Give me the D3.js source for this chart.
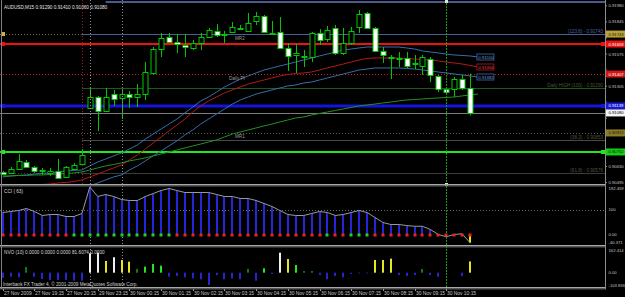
<!DOCTYPE html>
<html>
<head>
<meta charset="utf-8">
<script src="https://cdn.jsdelivr.net/npm/d3@7"></script>
<style>
html, body { margin: 0; padding: 0; background: #000; overflow: hidden; }
svg { display: block; }
text { font-family: "Liberation Sans", Arial, sans-serif; }
</style>
</head>
<body>
<script>
// AUDUSD M15, 60 bars: 27 Nov 2009 18:15 .. 30 Nov 2009 11:00
const opens  = [0.90584,0.90576,0.90609,0.90668,0.90626,0.90597,0.90576,0.90593,0.90542,0.90609,
                0.90651,0.91122,0.91214,0.91097,0.91239,0.91206,0.91239,0.91214,0.91239,0.91416,
                0.91617,0.91718,0.91676,0.91651,0.91626,0.91668,0.91718,0.91769,0.91743,0.91760,
                0.91794,0.91769,0.91853,0.91895,0.91752,0.91760,0.91626,0.91567,0.91559,0.91550,
                0.91752,0.91701,0.91794,0.91584,0.91668,0.91802,0.91920,0.91794,0.91601,0.91546,
                0.91542,0.91542,0.91491,0.91475,0.91533,0.91391,0.91281,0.91281,0.91365,0.91290];
const highs  = [0.90593,0.90626,0.90735,0.90685,0.90635,0.90618,0.90618,0.90693,0.90635,0.90660,
                0.90777,0.91298,0.91223,0.91290,0.91273,0.91281,0.91265,0.91323,0.91508,0.91634,
                0.91752,0.91752,0.91743,0.91743,0.91693,0.91752,0.91794,0.91827,0.91769,0.91844,
                0.91819,0.91920,0.91928,0.91903,0.91853,0.91886,0.91668,0.91659,0.91609,0.91760,
                0.91785,0.91811,0.91819,0.91794,0.91802,0.91945,0.91928,0.91802,0.91634,0.91567,
                0.91592,0.91592,0.91567,0.91567,0.91550,0.91399,0.91298,0.91382,0.91399,0.91410];
const lows   = [0.90559,0.90567,0.90601,0.90618,0.90576,0.90559,0.90551,0.90525,0.90534,0.90601,
                0.90643,0.91113,0.90928,0.91088,0.91139,0.91029,0.91122,0.91130,0.91189,0.91399,
                0.91550,0.91668,0.91584,0.91550,0.91609,0.91609,0.91710,0.91718,0.91668,0.91752,
                0.91777,0.91760,0.91819,0.91752,0.91743,0.91617,0.91433,0.91416,0.91466,0.91508,
                0.91651,0.91676,0.91567,0.91567,0.91651,0.91752,0.91785,0.91592,0.91500,0.91365,
                0.91466,0.91458,0.91449,0.91399,0.91340,0.91256,0.91231,0.91214,0.91273,0.91060];
const closes = [0.90567,0.90609,0.90677,0.90626,0.90593,0.90601,0.90593,0.90534,0.90626,0.90643,
                0.90727,0.91214,0.91097,0.91214,0.91197,0.91239,0.91214,0.91239,0.91424,0.91617,
                0.91710,0.91676,0.91659,0.91634,0.91668,0.91718,0.91777,0.91735,0.91735,0.91802,
                0.91785,0.91836,0.91895,0.91760,0.91748,0.91626,0.91559,0.91584,0.91550,0.91752,
                0.91693,0.91777,0.91584,0.91668,0.91769,0.91911,0.91794,0.91601,0.91567,0.91542,
                0.91540,0.91475,0.91500,0.91550,0.91399,0.91281,0.91256,0.91365,0.91290,0.91080];

// moving averages / bands (61 values, last one shifted one bar ahead)
const maUpper = [0.90542,0.90551,0.90555,0.90559,0.90567,0.90572,0.90576,0.90584,0.90593,0.90597,
                 0.90601,0.90635,0.90668,0.90693,0.90719,0.90744,0.90777,0.90811,0.90861,0.90903,
                 0.90945,0.90987,0.91029,0.91080,0.91130,0.91181,0.91214,0.91256,0.91298,0.91332,
                 0.91365,0.91391,0.91416,0.91441,0.91458,0.91475,0.91491,0.91508,0.91525,0.91542,
                 0.91559,0.91575,0.91592,0.91609,0.91617,0.91626,0.91634,0.91634,0.91634,0.91634,
                 0.91634,0.91626,0.91617,0.91601,0.91592,0.91584,0.91575,0.91567,0.91563,0.91559,0.91550];
const maMid   = [0.90433,0.90441,0.90450,0.90467,0.90475,0.90479,0.90483,0.90492,0.90496,0.90504,
                 0.90517,0.90542,0.90567,0.90593,0.90618,0.90643,0.90685,0.90727,0.90777,0.90828,
                 0.90878,0.90929,0.90979,0.91029,0.91088,0.91139,0.91181,0.91214,0.91248,0.91273,
                 0.91298,0.91323,0.91340,0.91357,0.91374,0.91391,0.91403,0.91412,0.91416,0.91424,
                 0.91441,0.91458,0.91475,0.91491,0.91508,0.91525,0.91538,0.91542,0.91542,0.91542,
                 0.91542,0.91538,0.91533,0.91529,0.91525,0.91517,0.91508,0.91500,0.91491,0.91479,0.91466];
const maLower = [0.90366,0.90374,0.90374,0.90383,0.90383,0.90391,0.90399,0.90408,0.90416,0.90425,
                 0.90441,0.90467,0.90492,0.90517,0.90542,0.90559,0.90601,0.90635,0.90677,0.90719,
                 0.90761,0.90803,0.90845,0.90895,0.90937,0.90987,0.91029,0.91071,0.91113,0.91155,
                 0.91189,0.91214,0.91239,0.91256,0.91273,0.91290,0.91307,0.91315,0.91332,0.91340,
                 0.91357,0.91374,0.91391,0.91407,0.91424,0.91441,0.91449,0.91458,0.91458,0.91458,
                 0.91458,0.91454,0.91449,0.91441,0.91433,0.91424,0.91416,0.91407,0.91399,0.91391,0.91382];
const maSlow  = [0.90551,0.90551,0.90555,0.90555,0.90559,0.90559,0.90563,0.90567,0.90572,0.90576,
                 0.90584,0.90601,0.90618,0.90635,0.90647,0.90660,0.90677,0.90689,0.90702,0.90719,
                 0.90735,0.90752,0.90769,0.90786,0.90803,0.90819,0.90836,0.90853,0.90878,0.90903,
                 0.90920,0.90937,0.90954,0.90971,0.90987,0.91004,0.91021,0.91038,0.91046,0.91063,
                 0.91076,0.91088,0.91101,0.91113,0.91126,0.91139,0.91147,0.91155,0.91164,0.91172,
                 0.91181,0.91189,0.91193,0.91197,0.91202,0.91206,0.91210,0.91214,0.91223,0.91231,0.91239];

// CCI(63) histogram and its signal dots
const cciValues = [88,92,96,104,92,76,80,80,72,72,
                   84,190,152,160,152,140,136,136,152,164,
                   176,184,176,168,168,168,168,160,152,152,
                   144,144,136,124,112,96,80,76,76,84,
                   92,88,76,80,88,96,88,68,48,40,
                   40,36,33,33,20,0,-9,0,3,-33];
const cciSignal = ['dn','dn','dn','dn','dn','dn','dn','dn','dn','up',
                   'up','up','up','up','up','up','up','up','up','up',
                   'up','up','dn','dn','dn','dn','dn','dn','dn','dn',
                   'dn','dn','dn','dn','dn','dn','dn','dn','dn','dn',
                   'dn','up','dn','dn','up','up','up','dn','dn','dn',
                   'dn','dn','dn','dn','dn','dn','dn','dn','dn','dn'];
const cciLevels = [192.459, 100, 0, -40.371];

// NVO(10): value per bar and which buffer it belongs to
const nvoValues = [-38,-29,-33,41,-29,-46,-53,-53,-53,-58,
                   -58,141,145,85,112,92,80,27,44,63,
                   51,-29,-24,-33,-41,-48,-89,-17,-48,-41,
                   -48,27,-58,32,-9,145,99,56,12,12,
                   -17,-48,-24,-33,-9,-5,-5,92,92,102,
                   -17,-24,-17,27,-17,-29,0,0,-24,81.6074];
const nvoBuffer = [5,5,5,2,5,5,5,5,5,5,
                   5,0,0,3,0,3,3,2,1,1,
                   1,5,5,5,5,5,5,5,5,5,
                   5,2,5,1,5,0,3,1,2,2,
                   5,5,5,5,5,5,5,3,3,3,
                   5,5,5,2,5,5,5,5,5,3];
const nvoLevels = [162.414, 0, -103.836];

// horizontal levels
const pivotLevels = [0.91743, 0.91407, 0.90912, 0.90576];
const pivotNames  = ['MR2', 'Daily PI', 'MR1', ''];
const fibLevels   = [0.91743, 0.91290, 0.90853, 0.90576];
const fibNames    = ['(123.6) - 0.91743', 'Daily HIGH (100) - 0.91290', '(38.2) - 0.90853', '(61.8) - 0.90576'];
const fibStartBar = 10;
const topLevel = 0.92012, topStartBar = 13;
const srLevels = [0.91659, 0.91139, 0.90752];
const bidPrice = 0.91080;

// price axis ticks
const priceTicks = [0.91980,0.91845,0.91710,0.91575,0.91440,0.91305,0.91170,0.91035,0.90900,0.90765,0.90630,0.90495];

// time axis
const timeLabels = ['27 Nov 2009','27 Nov 19:15','27 Nov 20:15','29 Nov 23:15','30 Nov 00:15','30 Nov 01:15',
                    '30 Nov 02:15','30 Nov 03:15','30 Nov 04:15','30 Nov 05:15','30 Nov 06:15','30 Nov 07:15',
                    '30 Nov 08:15','30 Nov 09:15','30 Nov 10:15'];
const timeLabelBars = [0,4,8,12,16,20,24,28,32,36,40,44,48,52,56];

// vertical markers (bar index)
const fibAnchorBar = 10;
const sessionBars = [11, 15];
const cursorBar = 56;

const W = 625, H = 297, R = 605;
const svg = d3.select('body').append('svg').attr('width', W).attr('height', H)
	.style('background', '#000');

const x = d3.scaleLinear().domain([0, 59]).range([2.7, 470]);
const y = d3.scaleLinear().domain([0.90483, 0.92029]).range([184, 0]);
const yCci = d3.scaleLinear().domain([-40.371, 192.459]).range([244.6, 186.4]);
const yNvo = d3.scaleLinear().domain([-103.836, 162.414]).range([287, 250.3]);

const defs = svg.append('defs');
[['cMain', 0, 0, R, 184], ['cCci', 0, 187, R, 58], ['cNvo', 0, 248, R, 39]].forEach(c => {
	defs.append('clipPath').attr('id', c[0]).append('rect')
		.attr('x', c[1]).attr('y', c[2]).attr('width', c[3]).attr('height', c[4]);
});

const main = svg.append('g').attr('clip-path', 'url(#cMain)');

// pivot dotted levels
const pivotColors = ['#77742c', '#c41c1c', '#5c5c50', '#3e3e3e'];
pivotLevels.forEach((p, i) => {
	main.append('line')
		.attr('x1', 0).attr('x2', R)
		.attr('y1', Math.round(y(p)) + 0.5).attr('y2', Math.round(y(p)) + 0.5)
		.attr('stroke', pivotColors[i]).attr('stroke-dasharray', '1,2');
});

// fib levels from the anchor bar
const fibColors = ['#4c5f92', '#1d5a1d', '#4a4a4a', '#3e3e3e'];
fibLevels.forEach((p, i) => {
	main.append('line')
		.attr('x1', x(fibStartBar)).attr('x2', R)
		.attr('y1', Math.round(y(p)) + 0.5).attr('y2', Math.round(y(p)) + 0.5)
		.attr('stroke', fibColors[i]).attr('stroke-dasharray', i == 3 ? '2,1' : null);
});
main.append('line')
	.attr('x1', x(topStartBar)).attr('x2', R)
	.attr('y1', y(topLevel)).attr('y2', y(topLevel))
	.attr('stroke', '#4a5a8e').attr('stroke-width', 2);

// bid line
main.append('line')
	.attr('x1', 0).attr('x2', R)
	.attr('y1', Math.round(y(bidPrice)) + 0.5).attr('y2', Math.round(y(bidPrice)) + 0.5)
	.attr('stroke', '#7c7c7c');

// support / resistance thick lines
const srColors = ['#f01010', '#1414dc', '#22e622'];
const srWidths = [2, 3, 2];
srLevels.forEach((p, i) => {
	main.append('line')
		.attr('x1', 0).attr('x2', R)
		.attr('y1', y(p)).attr('y2', y(p))
		.attr('stroke', srColors[i]).attr('stroke-width', srWidths[i]);
});

// vertical markers
main.append('line')
	.attr('x1', Math.round(x(fibAnchorBar)) + 0.5).attr('x2', Math.round(x(fibAnchorBar)) + 0.5)
	.attr('y1', 0).attr('y2', 184)
	.attr('stroke', '#9a1c1c').attr('stroke-dasharray', '1,2');

const vlines = svg.append('g');
sessionBars.forEach(b => {
	vlines.append('line')
		.attr('x1', Math.round(x(b)) + 0.5).attr('x2', Math.round(x(b)) + 0.5)
		.attr('y1', 0).attr('y2', 290)
		.attr('stroke', '#8c8c8c').attr('stroke-dasharray', '1,2');
});
vlines.append('line')
	.attr('x1', Math.round(x(cursorBar)) + 0.5).attr('x2', Math.round(x(cursorBar)) + 0.5)
	.attr('y1', 0).attr('y2', 290)
	.attr('stroke', '#1c9a1c').attr('stroke-dasharray', '2,1');

// moving averages
const line = d3.line().x((d, i) => x(i)).y(d => y(d));
[[maUpper, '#3a6cab'], [maMid, '#b01a1a'], [maLower, '#3a6cab'], [maSlow, '#249024']].forEach(m => {
	main.append('path').datum(m[0])
		.attr('d', line)
		.attr('fill', 'none')
		.attr('stroke', m[1]);
});

// candles
const candles = main.append('g');
opens.forEach((o, i) => {
	let c = closes[i];
	let cx = Math.round(x(i)) + 0.5;
	candles.append('line')
		.attr('x1', cx).attr('x2', cx)
		.attr('y1', y(highs[i])).attr('y2', y(lows[i]))
		.attr('stroke', '#00c800');
	let top = Math.round(y(Math.max(o, c)));
	let bot = Math.round(y(Math.min(o, c)));
	candles.append('rect')
		.attr('x', cx - 2.5).attr('y', top + 0.5)
		.attr('width', 5).attr('height', Math.max(bot - top, 1))
		.attr('fill', c < o ? '#ffffff' : '#000000')
		.attr('stroke', '#00c800');
});

// level captions
const captions = main.append('g').style('font-size', '4.6px');
pivotLevels.forEach((p, i) => {
	if (!pivotNames[i]) return;
	captions.append('text')
		.text(pivotNames[i])
		.attr('x', pivotNames[i] == 'Daily PI' ? 229 : 235)
		.attr('y', y(p) + 5.5)
		.attr('fill', '#9c9c9c');
});
const fibTextColors = ['#4e66a6', '#4e5a2c', '#55553a', '#55553a'];
fibLevels.forEach((p, i) => {
	captions.append('text')
		.text(fibNames[i])
		.attr('x', R - 2)
		.attr('y', y(p) - 1)
		.attr('text-anchor', 'end')
		.attr('fill', fibTextColors[i]);
});

// end-of-line MA value tags
[[maUpper, '#3a6cab', '#6f9fdc'], [maMid, '#b01a1a', '#e04040'], [maLower, '#3a6cab', '#6f9fdc']].forEach(m => {
	let last = m[0].length - 1;
	let ty = y(m[0][last]);
	main.append('rect')
		.attr('x', x(last) - 1).attr('y', ty - 3)
		.attr('width', 17).attr('height', 6)
		.attr('fill', '#000').attr('stroke', m[1]).attr('stroke-width', 0.8);
	main.append('text')
		.text(m[0][last].toFixed(5))
		.attr('x', x(last) + 0.3).attr('y', ty + 1.6)
		.attr('fill', m[2]).style('font-size', '4.3px');
});

// title
svg.append('text')
	.text('AUDUSD,M15  0.91290 0.91410 0.91060 0.91080')
	.attr('x', 4).attr('y', 9)
	.attr('fill', '#e4e4e4').style('font-size', '4.7px');

// markers on left / right edge of the coloured levels
const edgeLevels = [pivotLevels[0]].concat(srLevels);
const edgeColors = ['#c8b83c'].concat(srColors);
edgeLevels.forEach((p, i) => {
	svg.append('rect').attr('x', 1).attr('y', y(p) - 2).attr('width', 4).attr('height', 4).attr('fill', edgeColors[i]);
	if (i > 0) svg.append('rect').attr('x', R - 4).attr('y', y(p) - 2).attr('width', 4).attr('height', 4).attr('fill', edgeColors[i]);
});

// CCI panel
const cci = svg.append('g').attr('clip-path', 'url(#cCci)');
cci.append('line')
	.attr('x1', 0).attr('x2', R)
	.attr('y1', Math.round(yCci(100)) + 0.5).attr('y2', Math.round(yCci(100)) + 0.5)
	.attr('stroke', '#6a6a6a').attr('stroke-dasharray', '1,2');
cci.selectAll('rect.bar')
	.data(cciValues)
	.join('rect')
	.attr('class', 'bar')
	.attr('x', (d, i) => Math.round(x(i)) - 1)
	.attr('y', d => Math.min(yCci(d), yCci(0)))
	.attr('width', 2)
	.attr('height', d => Math.abs(yCci(d) - yCci(0)))
	.attr('fill', d => d < 0 ? '#e8e800' : '#2626d8');
cci.append('path').datum(cciValues)
	.attr('d', d3.line().x((d, i) => x(i)).y(d => yCci(d)))
	.attr('fill', 'none').attr('stroke', '#9a9a9a');
cci.selectAll('rect.dot')
	.data(cciSignal)
	.join('rect')
	.attr('class', 'dot')
	.attr('x', (d, i) => Math.round(x(i)) - 1.5)
	.attr('y', yCci(0) - 1)
	.attr('width', 3).attr('height', 3)
	.attr('fill', d => d == 'up' ? '#1ed21e' : '#f02020');
svg.append('text').text('CCI ( 63)')
	.attr('x', 4).attr('y', 193)
	.attr('fill', '#d8d8d8').style('font-size', '4.7px');

// NVO panel
const nvoColors = ['#f0f0f0', '#22e622', '#147a14', '#e6e61e', '#8080ff', '#2424d0'];
const nvo = svg.append('g').attr('clip-path', 'url(#cNvo)');
nvo.selectAll('rect')
	.data(nvoValues)
	.join('rect')
	.attr('x', (d, i) => Math.round(x(i)) - 1)
	.attr('y', d => Math.min(yNvo(d), yNvo(0)))
	.attr('width', 2)
	.attr('height', d => Math.abs(yNvo(d) - yNvo(0)))
	.attr('fill', (d, i) => nvoColors[nvoBuffer[i]]);
svg.append('text').text('NVO (10) 0.0000 0.0000 0.0000 81.6074 0.0000')
	.attr('x', 4).attr('y', 253.5)
	.attr('fill', '#d8d8d8').style('font-size', '4.7px');
svg.append('text').text('Interbank FX Trader 4, \u00a9 2001-2009 MetaQuotes Software Corp.')
	.attr('x', 3).attr('y', 285.5)
	.attr('fill', '#cfcfcf').style('font-size', '4.7px');

// cursor markers
[1, 184].forEach(v => {
	svg.append('rect').attr('x', Math.round(x(cursorBar)) - 1).attr('y', v - 1)
		.attr('width', 3).attr('height', 3).attr('fill', '#d8e8d8');
});

// panel separators and frame
[184, 245, 287].forEach(v => {
	svg.append('rect').attr('x', 0).attr('y', v).attr('width', R + 1).attr('height', 1.5).attr('fill', '#a8a8a8');
	svg.append('rect').attr('x', 0).attr('y', v + 1.5).attr('width', R + 1).attr('height', 1).attr('fill', '#5a5a5a');
});
svg.append('line').attr('x1', 1.5).attr('x2', 1.5).attr('y1', 0).attr('y2', 289).attr('stroke', '#808080');
svg.append('line').attr('x1', R + 0.5).attr('x2', R + 0.5).attr('y1', 0).attr('y2', 289).attr('stroke', '#8c8c8c');

// price tags on the axis
const tags = [
	[pivotLevels[0], '#b8a23a', '#1a1a00'],
	[srLevels[0], '#e81414', '#ffffff'],
	[pivotLevels[1], '#d01616', '#ffffff'],
	[srLevels[1], '#1818d8', '#ffffff'],
	[bidPrice, '#f4f4f4', '#000000'],
	[pivotLevels[2], '#8c7c28', '#1a1a00'],
	[srLevels[2], '#18cc18', '#002000']
];

// price axis: a tick label hidden under a tag is not drawn
const axisG = svg.append('g').style('font-size', '4.2px');
priceTicks.forEach(p => {
	axisG.append('line').attr('x1', R).attr('x2', R + 2).attr('y1', y(p)).attr('y2', y(p)).attr('stroke', '#8c8c8c');
	let covered = tags.some(t => Math.abs(y(t[0]) - y(p)) < 6);
	if (covered) return;
	axisG.append('text').text(p.toFixed(5))
		.attr('x', R + 3.5).attr('y', y(p) + 1.5)
		.attr('fill', '#c4c4c4');
});
tags.forEach(t => {
	axisG.append('rect')
		.attr('x', R + 1).attr('y', y(t[0]) - 3.5)
		.attr('width', W - R - 1).attr('height', 7)
		.attr('fill', t[1]);
	axisG.append('text').text(t[0].toFixed(5))
		.attr('x', R + 3.5).attr('y', y(t[0]) + 1.5)
		.attr('fill', t[2]);
});

// CCI / NVO axis labels
cciLevels.forEach((v, i) => {
	let ty = yCci(v) + 1.5 + (i == 0 ? 2 : 0) + (i == 3 ? -2 : 0);
	axisG.append('text').text(v == 0 ? '0.00' : (v == 100 ? '100' : v.toFixed(3)))
		.attr('x', R + 3.5).attr('y', ty).attr('fill', '#c4c4c4');
});
nvoLevels.forEach((v, i) => {
	let ty = yNvo(v) + 1.5 + (i == 2 ? -1.5 : 0);
	axisG.append('text').text(v == 0 ? '0.00' : v.toFixed(3))
		.attr('x', R + 3.5).attr('y', ty).attr('fill', '#c4c4c4');
});

// time axis
const timeG = svg.append('g').style('font-size', '4.9px');
timeLabels.forEach((t, i) => {
	let tx = Math.round(x(timeLabelBars[i])) + 0.5;
	timeG.append('line').attr('x1', tx).attr('x2', tx).attr('y1', 289).attr('y2', 291).attr('stroke', '#9a9a9a');
	timeG.append('text').text(t)
		.attr('x', tx + 0.5).attr('y', 295)
		.attr('fill', '#c8c8c8');
});
</script>
</body>
</html>
